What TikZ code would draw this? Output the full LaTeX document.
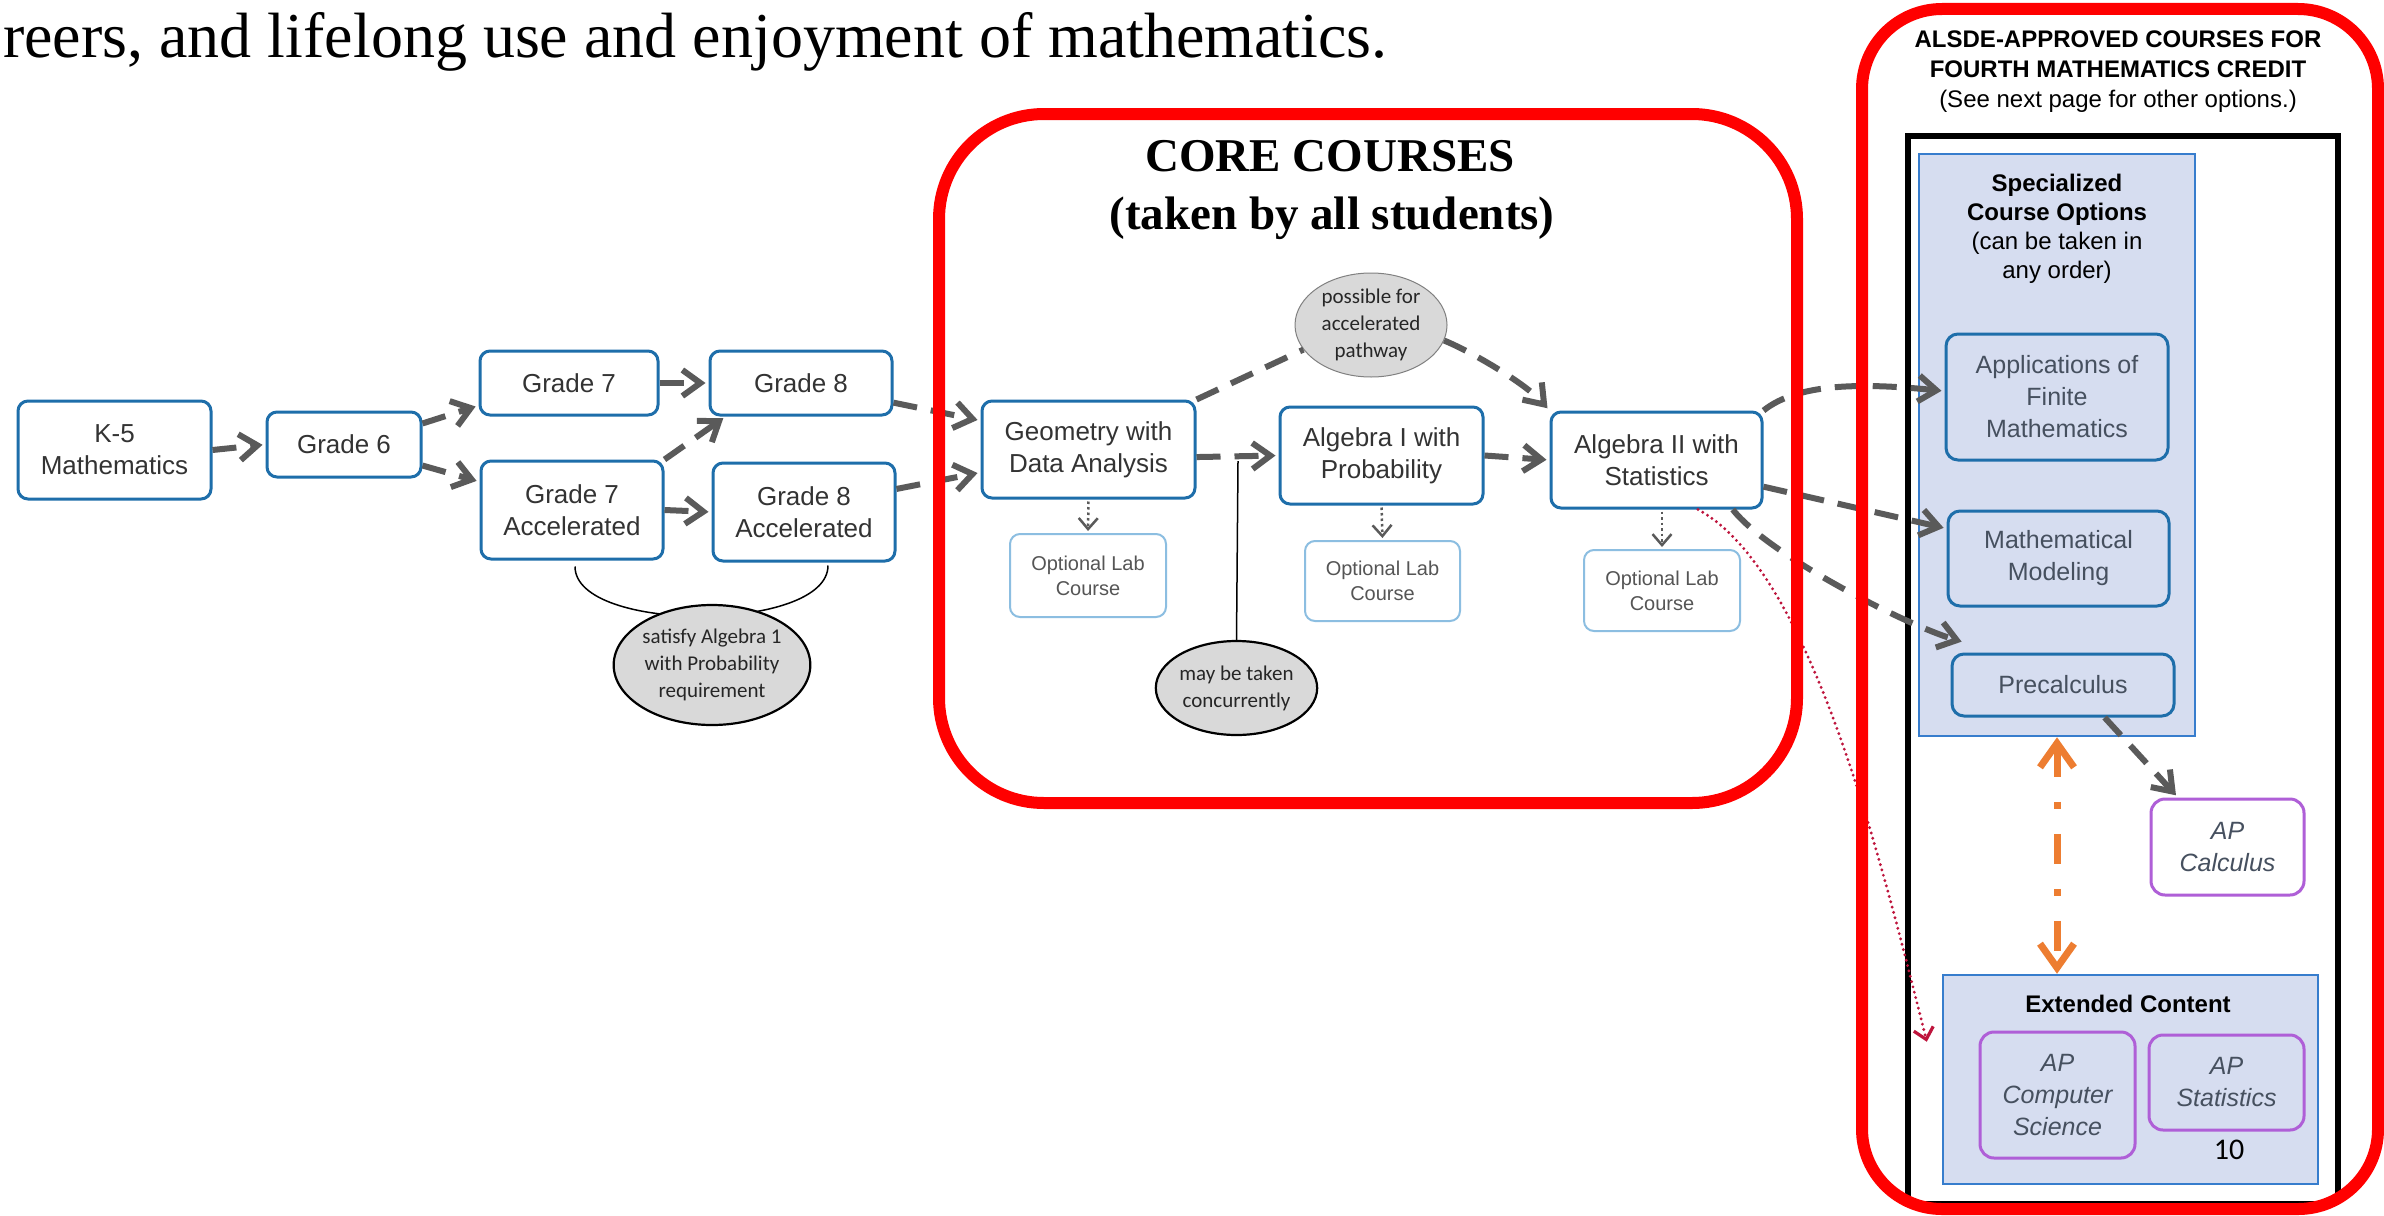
\documentclass[tikz,border=0pt]{standalone}
\usepackage{fontspec}
\setmainfont{Liberation Serif}
\newfontfamily\arialf{Liberation Sans}
\newfontfamily\calf{Carlito}
\usetikzlibrary{arrows.meta,shapes.geometric,calc}
\definecolor{boxblue}{RGB}{30,110,170}
\definecolor{labblue}{RGB}{140,190,225}
\definecolor{txtgray}{RGB}{51,51,51}
\definecolor{labtxt}{RGB}{85,85,85}
\definecolor{arrgray}{RGB}{90,90,90}
\definecolor{ellgray}{RGB}{217,217,217}
\definecolor{specfill}{RGB}{214,221,240}
\definecolor{specline}{RGB}{55,125,205}
\definecolor{apline}{RGB}{175,95,215}
\definecolor{innertxt}{RGB}{70,80,95}
\definecolor{orangeA}{RGB}{237,125,49}
\definecolor{crimsonA}{RGB}{190,20,60}
\definecolor{redA}{RGB}{255,0,0}
\begin{document}
\begin{tikzpicture}[x=1pt,y=-1pt,
  gbox/.style={draw=boxblue, line width=3pt, rounded corners=10pt, fill=white, text=txtgray, font=\arialf\fontsize{26}{32}\selectfont, align=center, inner sep=0pt},
  labbox/.style={draw=labblue, line width=2pt, rounded corners=10pt, fill=white, text=labtxt, font=\arialf\fontsize{20}{25}\selectfont, align=center, inner sep=0pt},
  note/.style={ellipse, draw=black, line width=2.2pt, fill=ellgray, text=black!85, font=\calf\fontsize{21}{27}\selectfont, align=center, inner sep=0pt},
  dasharrow/.style={draw=arrgray, line width=6pt, dash pattern=on 24pt off 14pt, -{Straight Barb[length=18pt,width=26pt]}, shorten >=3pt},
  dashline/.style={draw=arrgray, line width=6pt, dash pattern=on 24pt off 14pt},
  labarrow/.style={draw=arrgray, line width=2.5pt, dash pattern=on 2.5pt off 3pt, -{Straight Barb[length=11pt,width=19pt]}, shorten >=2pt, shorten <=2pt},
  inbox/.style={draw=boxblue, line width=3pt, rounded corners=12pt, text=innertxt, font=\arialf\fontsize{25}{32}\selectfont, align=center, inner sep=0pt},
  apbox/.style={draw=apline, line width=3pt, rounded corners=14pt, text=innertxt, font=\arialf\itshape\fontsize{25}{32}\selectfont, align=center, inner sep=0pt},
  container/.style={draw=specline, line width=2.5pt, fill=specfill, inner sep=0pt},
  hsans/.style={font=\arialf\bfseries\fontsize{24}{29}\selectfont, anchor=base, inner sep=0pt},
  rsans/.style={font=\arialf\fontsize{24}{29}\selectfont, anchor=base, inner sep=0pt},
  serifbold/.style={font=\bfseries\fontsize{47}{56}\selectfont, anchor=base, inner sep=0pt}
]
\useasboundingbox (0,0) rectangle (2384,1215);
\fill[white] (0,0) rectangle (2384,1215);

% top text
\node[anchor=base west, inner sep=0pt, font=\fontsize{64}{72}\selectfont] (intro) at (3,58) {reers, and lifelong use and enjoyment of mathematics.};

% black frame (kept inside the red frame) and containers
\begin{scope}
\clip[rounded corners=80pt] (1862,9) rectangle (2378,1209);
\draw[black, line width=6pt] (1908,136) rectangle (2338,1204);
\end{scope}
\node[container, minimum width=276, minimum height=582] (Spec) at (2057,445) {};
\node[container, minimum width=375, minimum height=209] (Ext) at (2130.5,1079.5) {};

% titles
\node[serifbold] (core1) at (1330,171) {CORE COURSES};
\node[serifbold] (core2) at (1332,229) {(taken by all students)};
\node[hsans] (t1) at (2118,47.5) {ALSDE-APPROVED COURSES FOR};
\node[hsans] (t2) at (2118,77.6) {FOURTH MATHEMATICS CREDIT};
\node[rsans] (t3) at (2118,107) {(See next page for other options.)};
\node[hsans] (specT1) at (2057,191.5) {Specialized};
\node[hsans] (specT2) at (2057,220.6) {Course Options};
\node[rsans] (specT3) at (2057,249.6) {(can be taken in};
\node[rsans] (specT4) at (2057,278.7) {any order)};
\node[hsans] (extT) at (2128,1012) {Extended Content};

% main boxes
\node[gbox, minimum width=193, minimum height=98] (K5) at (114.5,450) {K-5\\Mathematics};
\node[gbox, minimum width=154, minimum height=65] (G6) at (344,444.5) {Grade 6};
\node[gbox, minimum width=178, minimum height=64] (G7) at (569,383) {Grade 7};
\node[gbox, minimum width=182, minimum height=64] (G8) at (801,383) {Grade 8};
\node[gbox, minimum width=182, minimum height=98] (G7A) at (572,510) {Grade 7\\Accelerated};
\node[gbox, minimum width=182, minimum height=98] (G8A) at (804,512) {Grade 8\\Accelerated};
\node[gbox, minimum width=213, minimum height=97] (Geo) at (1088.5,449.5) {Geometry with\\Data Analysis};
\node[gbox, minimum width=203, minimum height=97] (Alg1) at (1381.5,455.5) {Algebra I with\\Probability};
\node[gbox, minimum width=211, minimum height=96] (Alg2) at (1656.5,460) {Algebra II with\\Statistics};
\node[labbox, minimum width=156, minimum height=83] (Lab1) at (1088,575.5) {Optional Lab\\Course};
\node[labbox, minimum width=155, minimum height=80] (Lab2) at (1382.5,581) {Optional Lab\\Course};
\node[labbox, minimum width=156, minimum height=81] (Lab3) at (1662,590.5) {Optional Lab\\Course};

% right side boxes
\node[inbox, minimum width=222, minimum height=126] (App) at (2057,397) {Applications of\\Finite\\Mathematics};
\node[inbox, minimum width=221, minimum height=95] (Mod) at (2058.5,558.5) {Mathematical\\Modeling};
\node[inbox, minimum width=222, minimum height=62] (Pre) at (2063,685) {Precalculus};
\node[apbox, fill=white, minimum width=153, minimum height=96] (APC) at (2227.5,847) {AP\\Calculus};
\node[apbox, minimum width=155, minimum height=126] (APCS) at (2057.5,1095) {AP\\Computer\\Science};
\node[apbox, minimum width=155, minimum height=95] (APS) at (2226.5,1082.5) {AP\\Statistics};
\node[font=\calf\fontsize{30}{36}\selectfont, anchor=base, inner sep=0pt] (pg) at (2229,1159) {10};

% bracket to satisfy note
\draw[black, line width=1.5pt] ($(G7A.south)+(3,6)$) .. controls +(0,67) and +(0,67) .. ($(G8A.south)+(24,3)$);
\node[note, minimum width=194, minimum height=120] (sat) at (712,665) {satisfy Algebra 1\\with Probability\\requirement};
\node[note, draw=gray, line width=1pt, minimum width=152, minimum height=104] (poss) at (1371,325) {possible for\\accelerated\\pathway};
\node[note, minimum width=157, minimum height=94] (may) at (1236.5,688) {may be taken\\concurrently};
\coordinate (mayTop) at (1238,461);
\draw[black, line width=1.5pt] (mayTop) -- (may.north);

% arrows
\draw[dasharrow] (K5.east) -- (G6.west);
\draw[dasharrow] (G6.15) -- (G7.194);
\draw[dasharrow] (G6.-15) -- (G7A.163);
\draw[dasharrow] (G7.east) -- (G8.west);
\draw[dasharrow] (G7A.north east) -- (G8.204);
\draw[dasharrow] (G7A.east) -- (G8A.west);
\draw[dasharrow] (G8.-12) -- (Geo.165);
\draw[dasharrow] (G8A.14) -- (Geo.192);
\draw[dasharrow] (Geo.-4) -- (Alg1.west);
\draw[dasharrow] (Alg1.east) -- (Alg2.west);
\draw[dashline] (Geo.north east) -- (poss.200);
\draw[dasharrow] (poss.-12) .. controls +(25,10) and +(-25,-28) .. (Alg2.north west);
\draw[dasharrow] (Alg2.north east) .. controls +(35,-28) and +(-80,-8) .. (App.177);
\draw[dasharrow] (Alg2.-14) -- (Mod.165);
\draw[dasharrow] (Alg2.-33) .. controls +(35,45) and +(-60,-18) .. ($(Pre.north west)+(14,-10)$);
\draw[dasharrow] (Pre.-38) -- (APC.135);
\draw[labarrow] (Geo.south) -- (Lab1.north);
\draw[labarrow] (Alg1.south) -- (Lab2.north);
\draw[labarrow] (Lab3.north |- Alg2.south) -- (Lab3.north);

% orange double arrow
\draw[orangeA, line width=7pt, dash pattern=on 30pt off 25pt on 7pt off 25pt, {Straight Barb[length=24pt,width=34pt]}-{Straight Barb[length=24pt,width=34pt]}] (Spec.south) -- (Spec.south |- Ext.north);

% crimson dotted
\draw[crimsonA, line width=3.2pt, line cap=round, dash pattern=on 0pt off 5.5pt, -{Straight Barb[length=11pt,width=20pt]}] (Alg2.-50) .. controls +(110,60) and +(-50,-200) .. ($(Ext.north west)+(-15,68)$);

% red frames
\draw[redA, line width=12pt, rounded corners=105pt] (939,114) rectangle (1797,803);
\draw[redA, line width=12pt, rounded corners=80pt] (1862,9) rectangle (2378,1209);
\end{tikzpicture}
\end{document}
